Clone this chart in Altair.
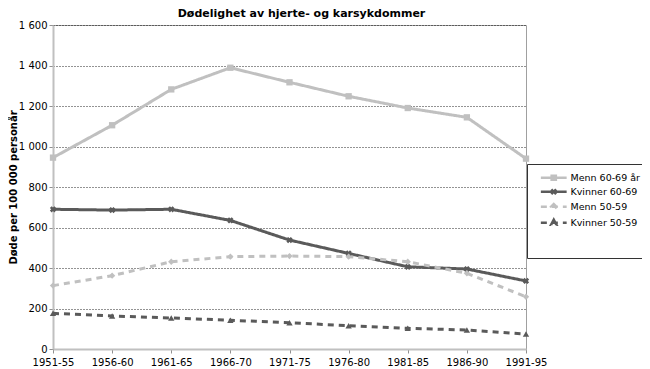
import altair as alt
import pandas as pd

perioder = ["1951-55", "1956-60", "1961-65", "1966-70", "1971-75",
            "1976-80", "1981-85", "1986-90", "1991-95"]
serier = ["Menn 60-69 år", "Kvinner 60-69", "Menn 50-59", "Kvinner 50-59"]
menn_60_69 = [945, 1105, 1282, 1389, 1317, 1248, 1190, 1144, 940]
kvinner_60_69 = [690, 686, 690, 635, 538, 472, 406, 395, 336]
menn_50_59 = [313, 362, 431, 456, 459, 456, 431, 374, 258]
kvinner_50_59 = [176, 163, 153, 142, 130, 115, 102, 94, 74]

verdier = [menn_60_69, kvinner_60_69, menn_50_59, kvinner_50_59]
rows = []
for s, vals in zip(serier, verdier):
    for p, v in zip(perioder, vals):
        rows.append({"periode": p, "serie": s, "tegnforklaring": s, "verdi": v})
df = pd.DataFrame(rows)

farger = ["#c0c0c0", "#5a5a5a", "#c0c0c0", "#5a5a5a"]
streker = [[1, 0], [1, 0], [6, 5], [6, 5]]
former = ["square", "cross", "diamond", "triangle-up"]
# legend symbols: a short line with the marker in the middle
legend_former = [
    "M-4.3,0H4.3M-0.7,-0.7H0.7V0.7H-0.7Z",
    "M-4.3,0H4.3M-0.8,-0.8L0.8,0.8M-0.8,0.8L0.8,-0.8",
    "M-4.3,0H4.3M0,-0.9L0.9,0L0,0.9L-0.9,0Z",
    "M-4.3,0H4.3M0,-1L0.9,0.7L-0.9,0.7Z",
]

FONT = "DejaVu Sans"

x = alt.X("periode:O", sort=perioder, scale=alt.Scale(type="point", padding=0),
          axis=alt.Axis(title=None, labelAngle=0, labelFontSize=10, labelColor="#000",
                        domainColor="#c0c0c0", domainWidth=2, tickColor="#909090",
                        tickSize=4, labelPadding=4, grid=False))
y = alt.Y("verdi:Q", scale=alt.Scale(domain=[0, 1600], nice=False),
          axis=alt.Axis(title="Døde per 100 000 personår", values=list(range(0, 1601, 200)),
                        labelExpr="replace(format(datum.value, ','), ',', ' ')",
                        labelFontSize=10, labelColor="#000", titleFontSize=10,
                        titleFontWeight="bold", titleColor="#000", titleX=-35,
                        domainColor="#c0c0c0", domainWidth=2, tickColor="#909090",
                        tickSize=4, labelPadding=2, grid=True, gridColor="#000",
                        gridDash=[1, 2], gridWidth=1, gridOpacity=0.85))

color_plot = alt.Color("serie:N", sort=serier, scale=alt.Scale(domain=serier, range=farger),
                       legend=None)
dash_plot = alt.StrokeDash("serie:N", sort=serier,
                           scale=alt.Scale(domain=serier, range=streker), legend=None)
shape_plot = alt.Shape("serie:N", sort=serier, scale=alt.Scale(domain=serier, range=former),
                       legend=None)
angle_plot = alt.condition(alt.datum.serie == "Kvinner 60-69", alt.value(45), alt.value(0))

leg = alt.Legend(title=" ", titleOrient="bottom", titleFontSize=10, titlePadding=9,
                 orient="none", legendX=474, legendY=139,
                 labelFontSize=9.5, labelColor="#000", strokeColor="#333",
                 padding=9, rowPadding=-1, symbolSize=36, symbolStrokeWidth=2.5,
                 symbolOffset=13, labelOffset=12, symbolOpacity=1, fillColor="white")
color_leg = alt.Color("tegnforklaring:N", sort=serier,
                      scale=alt.Scale(domain=serier, range=farger), legend=leg)
dash_leg = alt.StrokeDash("tegnforklaring:N", sort=serier,
                          scale=alt.Scale(domain=serier, range=streker), legend=leg)
shape_leg = alt.Shape("tegnforklaring:N", sort=serier,
                      scale=alt.Scale(domain=serier, range=legend_former), legend=leg)

base = alt.Chart(df)
linjer = base.mark_line(strokeWidth=3).encode(x=x, y=y, color=color_plot,
                                              strokeDash=dash_plot)
punkter = base.mark_point(filled=True, size=40, opacity=1).encode(
    x=x, y=y, color=color_plot, shape=shape_plot, angle=angle_plot)
tegn = base.mark_point(filled=False, opacity=0).encode(
    x=x, y=y, color=color_leg, shape=shape_leg, strokeDash=dash_leg)

chart = (linjer + punkter + tegn).resolve_scale(
    color="independent", shape="independent", strokeDash="independent"
).properties(
    width=473, height=324,
    title=alt.TitleParams("Dødelighet av hjerte- og karsykdommer", fontSize=11,
                          fontWeight="bold", font=FONT, anchor="middle", dx=12,
                          offset=1, color="#000"),
    autosize=alt.AutoSizeParams(type="none"),
    padding={"left": 45, "top": 17, "right": 116, "bottom": 20},
).configure(font=FONT).configure_view(stroke="#a0a0a0", strokeWidth=1)

chart.save("out.html", embed_options={"renderer": "svg", "actions": False})
